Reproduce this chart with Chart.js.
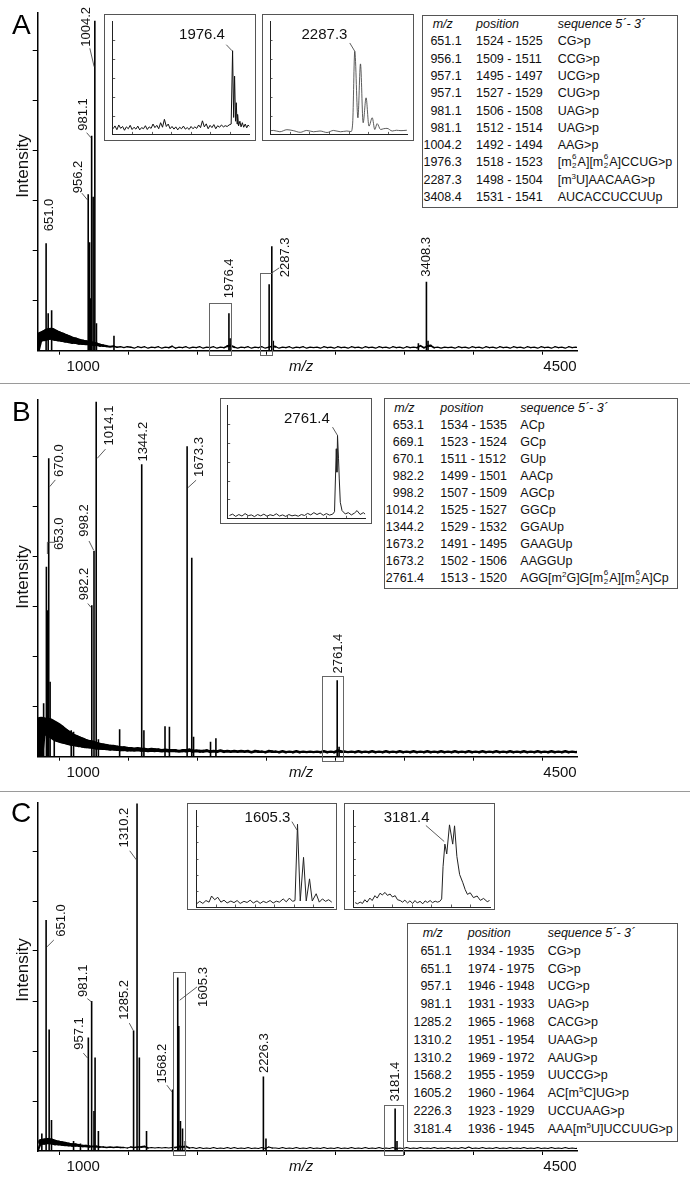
<!DOCTYPE html>
<html lang="en">
<head>
<meta charset="UTF-8">
<title>MALDI mass spectra A-C</title>
<script src="https://cdn.jsdelivr.net/npm/chart.js"></script>
<style>
  body { margin: 0; background: #fff; font-family: "Liberation Sans", Arial, sans-serif; }
  #fig { position: relative; width: 690px; height: 1185px; overflow: hidden; background: #fff; }
  #fig canvas { position: absolute; }
  #fig canvas.inset { background: #fff; }
  .sep { position: absolute; left: 0; width: 690px; height: 0; border-top: 1.5px solid #9a9a9a; }
  .letter { position: absolute; font-size: 28px; line-height: 30px; color: #000; }
  .tbl { position: absolute; border: 1px solid #555; background: #fff; font-size: 12.5px; color: #111; box-sizing: border-box; }
  .tbl .row { position: absolute; left: 0; right: 0; white-space: nowrap; }
  .tbl .c { position: absolute; top: 0; }
  .tbl .hd { font-style: italic; }
  .ss { display: inline-block; position: relative; width: 5px; height: 10px; margin: 0 0.5px; }
  .ss i { position: absolute; left: 0; font-style: normal; font-size: 8px; line-height: 8px; }
  .ss i:first-child { top: -3px; }
  .ss i:last-child { bottom: -4px; }
  sup { font-size: 8px; line-height: 0; vertical-align: 5px; }
</style>
</head>
<body>
<div id="fig">
  <canvas id="specA" width="690" height="383" style="left:0;top:0"></canvas>
  <canvas id="specB" width="690" height="407" style="left:0;top:384px"></canvas>
  <canvas id="specC" width="690" height="393" style="left:0;top:792px"></canvas>

  <canvas id="insA1" class="inset" width="152" height="127" style="left:104px;top:14px"></canvas>
  <canvas id="insA2" class="inset" width="152" height="127" style="left:262px;top:14px"></canvas>
  <canvas id="insB" class="inset" width="152" height="126" style="left:220px;top:398px"></canvas>
  <canvas id="insC1" class="inset" width="150" height="107" style="left:187px;top:803px"></canvas>
  <canvas id="insC2" class="inset" width="151" height="107" style="left:344px;top:803px"></canvas>

  <div class="sep" style="top:382.5px"></div>
  <div class="sep" style="top:790.5px"></div>
  <div class="letter" style="left:12px;top:10px">A</div>
  <div class="letter" style="left:12px;top:397px">B</div>
  <div class="letter" style="left:11px;top:798px">C</div>
</div>

<script>
// ---------- axes ----------
const mzMin = 590;
const mzMax = 4500;
const xTickValues = [1000, 1500, 2000, 2500, 3000, 3500, 4000, 4500];
const xLabelValues = [1000, 2500, 4500];
const xLabelText = ['1000', 'm/z', '4500'];
const yTickValues = [1, 2, 3, 4, 5, 6];
const insetYTicks = [1, 2, 3, 4, 5];

// baseline trace, sampled every 25 m/z starting at 590
const noiseStart = 590;
const noiseStep = 25;

// ---------- panel A ----------
const noiseA = [
  0, 0.28, 0.3, 0.33, 0.34, 0.31, 0.29, 0.27, 0.25, 0.23,
  0.21, 0.2, 0.18, 0.17, 0.16, 0.15, 0.14, 0.13, 0.11, 0.1,
  0.09, 0.08, 0.09, 0.07, 0.08, 0.06, 0.08, 0.07, 0.05, 0.08,
  0.06, 0.08, 0.05, 0.07, 0.06, 0.08, 0.05, 0.07, 0.06, 0.09,
  0.05, 0.07, 0.06, 0.08, 0.05, 0.07, 0.06, 0.08, 0.05, 0.07,
  0.06, 0.08, 0.05, 0.07, 0.06, 0.09, 0.1, 0.07, 0.05, 0.07,
  0.06, 0.08, 0.05, 0.07, 0.06, 0.08, 0.05, 0.07, 0.09, 0.08,
  0.05, 0.07, 0.06, 0.08, 0.05, 0.07, 0.06, 0.08, 0.05, 0.07,
  0.06, 0.07, 0.05, 0.08, 0.06, 0.07, 0.05, 0.08, 0.06, 0.07,
  0.05, 0.08, 0.06, 0.07, 0.05, 0.08, 0.06, 0.07, 0.05, 0.08,
  0.06, 0.07, 0.05, 0.08, 0.06, 0.07, 0.05, 0.08, 0.06, 0.07,
  0.06, 0.1, 0.06, 0.09, 0.1, 0.06, 0.07, 0.05, 0.07, 0.06,
  0.07, 0.05, 0.08, 0.06, 0.07, 0.05, 0.08, 0.06, 0.07, 0.05,
  0.08, 0.06, 0.07, 0.05, 0.08, 0.06, 0.07, 0.05, 0.08, 0.06,
  0.07, 0.05, 0.08, 0.06, 0.07, 0.05, 0.08, 0.06, 0.07, 0.05,
  0.08, 0.06, 0.07, 0.05, 0.08, 0.06, 0.07, 0.06
];
const peaksMzA  = [651.0, 666, 691, 956.2, 966, 972, 981.1, 992, 1004.2, 1016, 1143, 1976.4, 1985, 2268, 2287.3, 2298, 3350, 3408.3, 3420];
const peaksIntA = [2.15, 0.75, 0.81, 3.13, 2.17, 1.05, 4.3, 3.08, 6.6, 0.55, 0.3, 0.75, 0.25, 1.33, 2.09, 0.2, 0.15, 1.38, 0.2];
const labelsA = ['651.0', '956.2', '981.1', '1004.2', '1976.4', '2287.3', '3408.3'];
const zoomBoxesA = [[1834, 1994, 0.95], [2200, 2290, 1.55]];

// ---------- panel B ----------
const noiseB = [
  0, 0.62, 0.6, 0.6, 0.56, 0.52, 0.47, 0.43, 0.4, 0.37,
  0.34, 0.32, 0.3, 0.28, 0.26, 0.25, 0.24, 0.22, 0.21, 0.2,
  0.19, 0.18, 0.18, 0.17, 0.16, 0.16, 0.15, 0.15, 0.14, 0.15,
  0.14, 0.14, 0.13, 0.14, 0.13, 0.13, 0.12, 0.13, 0.12, 0.12,
  0.12, 0.11, 0.12, 0.12, 0.13, 0.11, 0.12, 0.11, 0.11, 0.12,
  0.1, 0.11, 0.1, 0.12, 0.1, 0.11, 0.1, 0.11, 0.1, 0.11,
  0.1, 0.11, 0.09, 0.11, 0.1, 0.1, 0.09, 0.11, 0.1, 0.1,
  0.09, 0.11, 0.09, 0.1, 0.09, 0.11, 0.09, 0.1, 0.09, 0.1,
  0.09, 0.1, 0.09, 0.11, 0.09, 0.1, 0.09, 0.12, 0.1, 0.1,
  0.09, 0.1, 0.09, 0.11, 0.09, 0.1, 0.09, 0.11, 0.09, 0.1,
  0.09, 0.11, 0.09, 0.1, 0.09, 0.11, 0.09, 0.1, 0.09, 0.11,
  0.09, 0.1, 0.09, 0.11, 0.09, 0.1, 0.09, 0.11, 0.09, 0.1,
  0.09, 0.11, 0.09, 0.1, 0.09, 0.11, 0.09, 0.1, 0.09, 0.11,
  0.09, 0.1, 0.09, 0.11, 0.09, 0.1, 0.09, 0.11, 0.09, 0.1,
  0.09, 0.11, 0.09, 0.1, 0.09, 0.11, 0.09, 0.1, 0.09, 0.11,
  0.09, 0.1, 0.09, 0.11, 0.09, 0.1, 0.09, 0.1
];
const peaksMzB  = [633, 653.0, 660, 670.0, 680, 710, 833, 850, 982.2, 998.2, 1014.1, 1030, 1184, 1344.2, 1360, 1513, 1545, 1673.3, 1707, 1720, 1843, 1882, 2761.4, 2775];
const peaksIntB = [1.07, 3.8, 2.93, 5.97, 1.5, 0.69, 0.53, 0.5, 3.03, 4.12, 7.1, 0.35, 0.55, 5.85, 0.53, 0.61, 0.6, 6.21, 3.98, 0.4, 0.3, 0.37, 1.53, 0.2];
const labelsB = ['653.0', '670.0', '982.2', '998.2', '1014.1', '1344.2', '1673.3', '2761.4'];
const zoomBoxesB = [[2654, 2805, 1.62]];

// ---------- panel C ----------
const noiseC = [
  0, 0.18, 0.19, 0.2, 0.19, 0.17, 0.16, 0.15, 0.14, 0.13,
  0.12, 0.12, 0.11, 0.1, 0.1, 0.09, 0.09, 0.09, 0.08, 0.08,
  0.07, 0.08, 0.07, 0.08, 0.07, 0.07, 0.06, 0.08, 0.07, 0.08,
  0.08, 0.09, 0.06, 0.07, 0.06, 0.07, 0.06, 0.07, 0.06, 0.07,
  0.07, 0.09, 0.08, 0.09, 0.06, 0.07, 0.05, 0.07, 0.05, 0.06,
  0.05, 0.07, 0.05, 0.06, 0.05, 0.07, 0.05, 0.07, 0.05, 0.06,
  0.05, 0.07, 0.05, 0.06, 0.05, 0.07, 0.05, 0.08, 0.06, 0.06,
  0.05, 0.07, 0.05, 0.06, 0.05, 0.07, 0.05, 0.06, 0.05, 0.07,
  0.05, 0.06, 0.05, 0.07, 0.05, 0.06, 0.05, 0.07, 0.05, 0.06,
  0.05, 0.07, 0.05, 0.06, 0.05, 0.07, 0.05, 0.06, 0.05, 0.07,
  0.05, 0.06, 0.05, 0.07, 0.05, 0.06, 0.05, 0.07, 0.05, 0.06,
  0.05, 0.07, 0.05, 0.06, 0.05, 0.07, 0.05, 0.06, 0.05, 0.07,
  0.05, 0.06, 0.05, 0.07, 0.05, 0.08, 0.05, 0.06, 0.05, 0.07,
  0.05, 0.06, 0.05, 0.07, 0.05, 0.06, 0.05, 0.07, 0.05, 0.06,
  0.05, 0.07, 0.05, 0.06, 0.05, 0.07, 0.05, 0.06, 0.05, 0.07,
  0.05, 0.06, 0.05, 0.07, 0.05, 0.06, 0.05, 0.06
];
const peaksMzC  = [620, 651.0, 673, 690, 850, 900, 957.1, 981.1, 998, 1006, 1030, 1285.2, 1310.2, 1327, 1379, 1568.2, 1605.3, 1613, 1625, 1640, 1660, 2226.3, 2245, 3181.4, 3195];
const peaksIntC = [0.35, 4.62, 2.43, 0.62, 0.2, 0.15, 2.27, 3.0, 0.8, 1.87, 0.4, 2.41, 6.95, 1.87, 0.4, 1.23, 3.47, 2.5, 0.6, 0.45, 0.2, 1.49, 0.25, 0.85, 0.2];
const labelsC = ['651.0', '957.1', '981.1', '1285.2', '1310.2', '1568.2', '1605.3', '2226.3', '3181.4'];
const zoomBoxesC = [[1573, 1660, 3.59], [3098, 3239, 0.92]];

// ---------- insets: [m/z, relative intensity] ----------
const insetA1Trace = [
  [1913.5,.30],[1914.5,.45],[1915.5,.25],[1916.5,.50],[1917.5,.32],[1918.5,.42],[1919.5,.22],[1920.5,.40],
  [1921.5,.30],[1922.5,.48],[1923.5,.26],[1924.5,.38],[1925.5,.28],[1926.5,.44],[1927.5,.24],[1928.5,.36],
  [1929.5,.30],[1930.5,.46],[1931.5,.26],[1932.5,.40],[1933.5,.32],[1934.5,.55],[1935.5,.36],[1936.5,.48],
  [1937.5,.30],[1938.5,.62],[1939.5,.38],[1940.5,.80],[1941.5,.42],[1942.5,.55],[1943.5,.30],[1944.5,.42],
  [1945.5,.28],[1946.5,.40],[1947.5,.24],[1948.5,.38],[1949.5,.30],[1950.5,.44],[1951.5,.28],[1952.5,.36],
  [1953.5,.26],[1954.5,.42],[1955.5,.30],[1956.5,.40],[1957.5,.32],[1958.5,.50],[1959.5,.36],[1960.5,.72],
  [1961.5,.40],[1962.5,.56],[1963.5,.30],[1964.5,.48],[1965.5,.36],[1966.5,.52],[1967.5,.30],[1968.5,.46],
  [1969.5,.38],[1970.5,.50],[1971.5,.40],[1972.5,.46],[1973.5,.42],[1974.5,.50],[1975.6,.55],[1976.35,4.44],
  [1976.9,.9],[1977.4,3.09],[1977.9,.7],[1978.3,1.68],[1978.7,.55],[1979.0,1.06],[1979.5,.45],[1980.2,.70],
  [1980.8,.40],[1981.5,.62],[1982.2,.38],[1983.0,.55],[1983.8,.35],[1984.5,.50],[1985.2,.42]
];
const insetA2Trace = [
  [2272.8,.20],[2273.3,.21],[2274.4,.14],[2275.6,.25],[2276.7,.20],[2277.9,.11],[2279.0,.21],[2280.2,.14],
  [2281.3,.18],[2282.5,.10],[2283.6,.21],[2284.8,.14],[2285.9,.18],[2286.6,.15],[2286.9,.60],[2287.26,4.41],
  [2287.8,.88],[2288.24,3.74],[2288.7,.62],[2289.2,1.94],[2289.7,.44],[2290.26,.88],[2290.7,.26],[2291.1,.57],
  [2291.7,.26],[2292.2,.30],[2292.8,.32],[2293.7,.18],[2294.4,.22],[2295.2,.20],[2296.2,.22]
];
const insetBTrace = [
  [2675.0,.15],[2677.5,.22],[2680.0,.10],[2682.5,.20],[2685.0,.12],[2687.5,.25],[2690.0,.14],[2692.5,.18],
  [2695.0,.09],[2697.5,.20],[2700.0,.13],[2702.5,.22],[2705.0,.11],[2707.5,.19],[2710.0,.14],[2712.5,.24],
  [2715.0,.12],[2717.5,.18],[2720.0,.10],[2722.5,.20],[2725.0,.13],[2727.5,.17],[2730.0,.11],[2732.5,.20],
  [2735.0,.15],[2737.5,.26],[2740.0,.18],[2742.5,.30],[2745.0,.20],[2747.5,.28],[2750.0,.16],[2752.5,.25],
  [2755.0,.17],[2757.5,.22],[2759.0,.35],[2760.4,3.69],[2760.9,2.45],[2761.4,4.40],[2762.2,3.16],[2762.8,2.09],
  [2763.6,.85],[2765.0,.41],[2767.6,.23],[2770.0,.30],[2772.5,.18],[2775.0,.28],[2777.0,.41],[2779.5,.20],
  [2782.0,.30],[2783.5,.22]
];
const insetC1Trace = [
  [1589.1,.20],[1589.6,.35],[1590.1,.22],[1590.6,.40],[1591.1,.30],[1591.5,.68],[1592.0,.45],[1592.5,.60],
  [1593.0,.30],[1593.5,.42],[1594.0,.25],[1594.6,.37],[1595.1,.27],[1595.6,.40],[1596.1,.22],[1596.7,.35],
  [1597.2,.28],[1597.7,.42],[1598.2,.25],[1598.8,.38],[1599.3,.22],[1599.8,.35],[1600.3,.27],[1600.9,.40],
  [1601.4,.25],[1601.9,.36],[1602.4,.30],[1603.0,.50],[1603.5,.32],[1604.0,.55],[1604.5,.35],[1604.9,.40],
  [1605.3,5.12],[1605.74,.37],[1606.27,3.07],[1606.7,.37],[1607.23,1.74],[1607.67,.37],[1608.3,.82],[1608.8,.30],
  [1609.3,.50],[1609.8,.35],[1610.3,.45],[1610.8,.30]
];
const insetC2Trace = [
  [3161.9,.27],[3162.4,.20],[3163.0,.30],[3163.5,.22],[3164.0,.45],[3164.5,.30],[3165.1,.55],[3165.6,.40],
  [3166.2,.70],[3166.7,.55],[3167.3,.85],[3167.8,.75],[3168.4,.90],[3168.9,.72],[3169.5,.80],[3170.0,.62],
  [3170.6,.70],[3171.1,.45],[3171.7,.40],[3172.2,.30],[3172.7,.42],[3173.3,.25],[3173.8,.38],[3174.4,.22],
  [3174.9,.40],[3175.4,.25],[3176.0,.35],[3176.6,.20],[3177.1,.38],[3177.6,.28],[3178.2,.40],[3178.7,.27],
  [3179.3,.36],[3179.8,.30],[3180.3,.35],[3180.7,.50],[3181.0,2.50],[3181.4,3.89],[3181.8,3.28],[3182.4,5.08],
  [3183.1,3.89],[3183.5,5.02],[3184.0,3.13],[3184.6,2.01],[3185.3,1.50],[3185.8,1.08],[3186.3,.78],[3186.9,.88],
  [3187.6,.58],[3188.4,.68],[3189.1,.41],[3189.8,.53],[3190.6,.33],[3191.1,.40]
];

// ---------- tables ----------
const tableA_mz = ['651.1', '956.1', '957.1', '957.1', '981.1', '981.1', '1004.2', '1976.3', '2287.3', '3408.4'];
const tableA_pos = ['1524 - 1525', '1509 - 1511', '1495 - 1497', '1527 - 1529', '1506 - 1508', '1512 - 1514', '1492 - 1494', '1518 - 1523', '1498 - 1504', '1531 - 1541'];
const tableA_seq = ['CG>p', 'CCG>p', 'UCG>p', 'CUG>p', 'UAG>p', 'UAG>p', 'AAG>p', '[m{6,2}A][m{6,2}A]CCUG>p', '[m^3U]AACAAG>p', 'AUCACCUCCUUp'];
const tableB_mz = ['653.1', '669.1', '670.1', '982.2', '998.2', '1014.2', '1344.2', '1673.2', '1673.2', '2761.4'];
const tableB_pos = ['1534 - 1535', '1523 - 1524', '1511 - 1512', '1499 - 1501', '1507 - 1509', '1525 - 1527', '1529 - 1532', '1491 - 1495', '1502 - 1506', '1513 - 1520'];
const tableB_seq = ['ACp', 'GCp', 'GUp', 'AACp', 'AGCp', 'GGCp', 'GGAUp', 'GAAGUp', 'AAGGUp', 'AGG[m^2G]G[m{6,2}A][m{6,2}A]Cp'];
const tableC_mz = ['651.1', '651.1', '957.1', '981.1', '1285.2', '1310.2', '1310.2', '1568.2', '1605.2', '2226.3', '3181.4'];
const tableC_pos = ['1934 - 1935', '1974 - 1975', '1946 - 1948', '1931 - 1933', '1965 - 1968', '1951 - 1954', '1969 - 1972', '1955 - 1959', '1960 - 1964', '1923 - 1929', '1936 - 1945'];
const tableC_seq = ['CG>p', 'CG>p', 'UCG>p', 'UAG>p', 'CACG>p', 'UAAG>p', 'AAUG>p', 'UUCCG>p', 'AC[m^5C]UG>p', 'UCCUAAG>p', 'AAA[m^5U]UCCUUG>p'];
const tableHeader = ['m/z', 'position', 'sequence 5´- 3´'];

// ---------- layout (pixel offsets, not data) ----------
// label: [dx, text-bottom offset from peak top, leader polyline]
const labelLayoutA = {
  '651.0': [3.7, -12, null],
  '956.2': [-10, -1, [[-6.3, -1], [-0.7, 5.7]]],
  '981.1': [-8.3, -5, [[-5, -3], [-0.7, 2]]],
  '1004.2': [-8.4, 26, [[-5, 27.6], [-0.7, 46]]],
  '1976.4': [0.7, -15, null],
  '2287.3': [13.7, 31, [[0, 26.7], [7.4, 21.7]]],
  '3408.3': [0, -5, null]
};
const labelLayoutB = {
  '653.0': [12.8, -16.7, [[8.6, -24.4], [1, -24.4], [1, -12.7]]],
  '670.0': [10.6, 18.7, [[6.6, 21.7], [1, 28.4]]],
  '982.2': [-7.3, -5, [[-4, -1.7], [-0.7, 2.3]]],
  '998.2': [-9.6, -14, [[-5, -9.7], [-0.5, -0.7]]],
  '1014.1': [13.6, 43.7, [[9.3, 47.4], [1, 56.7]]],
  '1344.2': [1.7, -2.6, null],
  '1673.3': [12, 30.7, [[9, 34], [1, 41.3]]],
  '2761.4': [1.6, -6.7, null]
};
const labelLayoutC = {
  '651.0': [15.7, 16.7, [[7.7, 20], [1, 26.7]]],
  '957.1': [-9.4, 12.3, [[-5, 15.6], [-0.7, 20.6]]],
  '981.1': [-8.3, -4, [[-4.3, -2.4], [0, 1]]],
  '1285.2': [-8.7, -10.7, [[-4.3, -7.4], [-0.3, 0]]],
  '1310.2': [-12.3, 44, [[-7.3, 47.3], [-0.7, 56.3]]],
  '1568.2': [-10, -6, [[-5.7, -4.3], [-0.7, 2.4]]],
  '1605.3': [26, 29.4, [[19.3, 9.4], [2, 22.7]]],
  '2226.3': [0.6, -3.4, null],
  '3181.4': [0.3, -7, null]
};
const xLabelShift = [-11, 0, -17];
const FONT = '"Liberation Sans", Arial, sans-serif';
Chart.defaults.font.family = FONT;

// the noisy baseline is drawn as a band whose thickness follows its level
const bandWidth = v => Math.min(18, Math.max(1.2, 40 * v - 1.5));

function spectrumMarks(cfg) {
  return {
    id: 'spectrumMarks',
    afterDatasetsDraw(chart) {
      const { ctx, scales: { x, y } } = chart;
      const base = y.getPixelForValue(0);
      ctx.save();
      // zoom boxes around the inset peaks
      ctx.strokeStyle = '#666';
      ctx.lineWidth = 1;
      cfg.boxes.forEach(b => {
        const x0 = Math.round(x.getPixelForValue(b[0])) + 0.5;
        const x1 = Math.round(x.getPixelForValue(b[1])) + 0.5;
        const y0 = Math.round(y.getPixelForValue(b[2])) + 0.5;
        ctx.strokeRect(x0, y0, x1 - x0, Math.round(base + 4) + 0.5 - y0);
      });
      // rotated peak labels
      ctx.fillStyle = '#111';
      ctx.font = '13px ' + FONT;
      ctx.textAlign = 'left';
      ctx.textBaseline = 'middle';
      cfg.labels.forEach(t => {
        const i = cfg.peaksMz.findIndex(m => Math.abs(m - parseFloat(t)) < 0.05);
        const px = x.getPixelForValue(cfg.peaksMz[i]);
        const py = y.getPixelForValue(cfg.peaksInt[i]);
        const L = cfg.layout[t];
        ctx.save();
        ctx.translate(px + L[0], py + L[1]);
        ctx.rotate(-Math.PI / 2);
        ctx.fillText(t, 0, 0);
        ctx.restore();
        if (L[2]) {
          ctx.beginPath();
          L[2].forEach((p, k) => k ? ctx.lineTo(px + p[0], py + p[1]) : ctx.moveTo(px + p[0], py + p[1]));
          ctx.strokeStyle = '#333';
          ctx.lineWidth = 0.8;
          ctx.stroke();
        }
      });
      // x labels
      ctx.textAlign = 'center';
      xLabelValues.forEach((v, k) => {
        ctx.font = (xLabelText[k] === 'm/z' ? 'italic ' : '') + '15px ' + FONT;
        ctx.fillText(xLabelText[k], x.getPixelForValue(v) + xLabelShift[k], base + 16);
      });
      // y title
      ctx.save();
      ctx.translate(23.3, cfg.titleY);
      ctx.rotate(-Math.PI / 2);
      ctx.font = '17px ' + FONT;
      ctx.fillText('Intensity', 0, 0);
      ctx.restore();
      ctx.restore();
    }
  };
}

function makeSpectrum(id, cfg) {
  new Chart(document.getElementById(id), {
    type: 'line',
    data: {
      datasets: [
        {
          type: 'bar',
          data: cfg.peaksMz.map((m, i) => ({ x: m, y: cfg.peaksInt[i] })),
          backgroundColor: '#000',
          borderWidth: 0,
          barThickness: 1.6,
          inflateAmount: 0,
          grouped: false
        },
        {
          type: 'line',
          data: cfg.noise.map((v, i) => ({ x: noiseStart + i * noiseStep, y: v })),
          borderColor: '#000',
          borderWidth: 1.2,
          borderCapStyle: 'round',
          borderJoinStyle: 'round',
          pointRadius: 0,
          tension: 0,
          segment: {
            borderWidth: c => bandWidth((c.p0.parsed.y + c.p1.parsed.y) / 2)
          }
        }
      ]
    },
    options: {
      responsive: false,
      animation: false,
      events: [],
      layout: { padding: { top: cfg.top, right: 113, left: 0, bottom: 0 } },
      plugins: { legend: { display: false }, tooltip: { enabled: false } },
      scales: {
        x: {
          type: 'linear', min: mzMin, max: mzMax, offset: false,
          afterBuildTicks: s => { s.ticks = xTickValues.map(v => ({ value: v })); },
          afterFit: s => { s.height = cfg.xh; },
          ticks: { display: false },
          grid: { display: true, drawOnChartArea: false, drawTicks: true, tickLength: 4, color: '#000', lineWidth: 1 },
          border: { display: true, color: '#000', width: 1.5 }
        },
        y: {
          min: 0, max: cfg.ymax,
          afterBuildTicks: s => { s.ticks = yTickValues.map(v => ({ value: v })); },
          afterFit: s => { s.width = 37.7; },
          ticks: { display: false },
          grid: { display: true, drawOnChartArea: false, drawTicks: true, tickLength: 5, color: '#000', lineWidth: 1 },
          border: { display: true, color: '#000', width: 1.5 }
        }
      }
    },
    plugins: [spectrumMarks(cfg)]
  });
}

makeSpectrum('specA', { noise: noiseA, peaksMz: peaksMzA, peaksInt: peaksIntA, labels: labelsA, layout: labelLayoutA, boxes: zoomBoxesA, top: 12.7, xh: 32.3, ymax: 6.76, titleY: 166 });
makeSpectrum('specB', { noise: noiseB, peaksMz: peaksMzB, peaksInt: peaksIntB, labels: labelsB, layout: labelLayoutB, boxes: zoomBoxesB, top: 16, xh: 34.3, ymax: 7.134, titleY: 193 });
makeSpectrum('specC', { noise: noiseC, peaksMz: peaksMzC, peaksInt: peaksIntC, labels: labelsC, layout: labelLayoutC, boxes: zoomBoxesC, top: 10.7, xh: 34, ymax: 6.966, titleY: 178 });

// ---------- insets ----------
function insetMarks(cfg) {
  return {
    id: 'insetMarks',
    afterDraw(chart) {
      const { ctx, scales: { x, y }, chartArea: a, width, height } = chart;
      ctx.save();
      ctx.strokeStyle = '#555';
      ctx.lineWidth = 1;
      ctx.strokeRect(0.5, 0.5, width - 1, height - 1);
      // small inward ticks
      ctx.strokeStyle = '#333';
      ctx.lineWidth = 0.8;
      ctx.beginPath();
      insetYTicks.forEach(v => {
        const py = Math.round(y.getPixelForValue(v)) + 0.5;
        ctx.moveTo(a.left, py);
        ctx.lineTo(a.left + 2.5, py);
      });
      for (let k = 1; k < 7; k++) {
        const px = Math.round(x.getPixelForValue(x.min + k * (x.max - x.min) / 7)) + 0.5;
        ctx.moveTo(px, a.bottom);
        ctx.lineTo(px, a.bottom - 2.5);
      }
      ctx.stroke();
      // peak label with leader
      const pk = cfg.trace.find(p => p[0] === cfg.anchor);
      const px = x.getPixelForValue(pk[0]);
      const py = y.getPixelForValue(pk[1]);
      ctx.fillStyle = '#111';
      ctx.font = '15px ' + FONT;
      ctx.textAlign = 'center';
      ctx.textBaseline = 'middle';
      ctx.fillText(cfg.text, px + cfg.lab[0], py + cfg.lab[1]);
      ctx.beginPath();
      ctx.moveTo(px + cfg.lead[0][0], py + cfg.lead[0][1]);
      ctx.lineTo(px + cfg.lead[1][0], py + cfg.lead[1][1]);
      ctx.strokeStyle = '#333';
      ctx.lineWidth = 0.8;
      ctx.stroke();
      ctx.restore();
    }
  };
}

function makeInset(id, cfg) {
  const p = cfg.pad;
  new Chart(document.getElementById(id), {
    type: 'line',
    data: {
      datasets: [{
        data: cfg.trace.map(d => ({ x: d[0], y: d[1] })),
        borderColor: cfg.color,
        borderWidth: cfg.lw,
        pointRadius: 0,
        tension: 0,
        cubicInterpolationMode: cfg.smooth ? 'monotone' : 'default'
      }]
    },
    options: {
      responsive: false,
      animation: false,
      events: [],
      layout: { padding: { left: 0, top: p[1], right: p[2], bottom: 0 } },
      plugins: { legend: { display: false }, tooltip: { enabled: false } },
      scales: {
        x: {
          type: 'linear', min: cfg.xr[0], max: cfg.xr[1],
          ticks: { display: false }, grid: { display: false },
          border: { display: true, color: '#222', width: 1 },
          afterFit: s => { s.height = p[3]; }
        },
        y: {
          min: 0, max: 6,
          ticks: { display: false }, grid: { display: false },
          border: { display: true, color: '#222', width: 1 },
          afterFit: s => { s.width = p[0]; }
        }
      }
    },
    plugins: [insetMarks(cfg)]
  });
}

makeInset('insA1', { trace: insetA1Trace, anchor: 1976.35, text: '1976.4', xr: [1913.3, 1985.3], pad: [8.7, 7.3, 6.4, 6.6], lab: [-30.6, -16], lead: [[-6.3, -6], [-0.6, 0]], color: '#111', lw: 1, smooth: false });
makeInset('insA2', { trace: insetA2Trace, anchor: 2287.26, text: '2287.3', xr: [2272.7, 2296.3], pad: [8, 7.3, 6.6, 6.6], lab: [-30.3, -16.6], lead: [[-5, -8.3], [0, 0]], color: '#333', lw: 0.8, smooth: true });
makeInset('insB', { trace: insetBTrace, anchor: 2761.4, text: '2761.4', xr: [2673.6, 2783.6], pad: [7.7, 7.3, 6.7, 5.7], lab: [-30.6, -16.6], lead: [[-5, -8.3], [0, 0]], color: '#222', lw: 1, smooth: false });
makeInset('insC1', { trace: insetC1Trace, anchor: 1605.3, text: '1605.3', xr: [1589, 1611], pad: [9, 7, 4, 3], lab: [-30, -6.6], lead: [[-5.6, -2.6], [-0.6, 5.7]], color: '#222', lw: 1, smooth: false });
makeInset('insC2', { trace: insetC2Trace, anchor: 3181.4, text: '3181.4', xr: [3161.5, 3191.2], pad: [9.3, 7, 5, 3], lab: [-38.3, -26.6], lead: [[-19, -18.6], [-0.7, -2.6]], color: '#222', lw: 1, smooth: false });

// ---------- tables ----------
const fmtSeq = s => s.replace(/>/g, '&gt;')
  .replace(/\{(\d),(\d)\}/g, '<span class="ss"><i>$1</i><i>$2</i></span>')
  .replace(/\^(\d)/g, '<sup>$1</sup>');

function buildTable(cfg, mz, pos, seq) {
  const box = document.createElement('div');
  box.className = 'tbl';
  Object.assign(box.style, { left: cfg.left + 'px', top: cfg.top + 'px', width: cfg.width + 'px', height: cfg.height + 'px' });
  const rows = [tableHeader].concat(mz.map((m, i) => [m, pos[i], seq[i]]));
  rows.forEach((r, i) => {
    const row = document.createElement('div');
    row.className = 'row' + (i === 0 ? ' hd' : '');
    row.style.top = (cfg.first + i * cfg.step - cfg.step / 2 - 1) + 'px';
    row.style.height = cfg.step + 'px';
    row.style.lineHeight = cfg.step + 'px';
    const first = i === 0 ? `left:${cfg.hdr}px` : `right:${cfg.width - cfg.mzRight - 1}px`;
    row.innerHTML = `<span class="c" style="${first}">${r[0]}</span>` +
      `<span class="c" style="left:${cfg.pos}px">${r[1]}</span>` +
      `<span class="c" style="left:${cfg.seq}px">${i === 0 ? r[2] : fmtSeq(r[2])}</span>`;
    box.appendChild(row);
  });
  document.getElementById('fig').appendChild(box);
}

buildTable({ left: 421.7, top: 14.7, width: 256.3, height: 193.3, first: 10, step: 17.3, hdr: 10, mzRight: 40, pos: 53.3, seq: 135 }, tableA_mz, tableA_pos, tableA_seq);
buildTable({ left: 384, top: 397.7, width: 293.7, height: 191.3, first: 10.6, step: 17, hdr: 9.3, mzRight: 40, pos: 55.3, seq: 135.3 }, tableB_mz, tableB_pos, tableB_seq);
buildTable({ left: 407, top: 922.7, width: 271, height: 219, first: 11.3, step: 17.8, hdr: 14.7, mzRight: 44.7, pos: 59.7, seq: 139.7 }, tableC_mz, tableC_pos, tableC_seq);
</script>
</body>
</html>
